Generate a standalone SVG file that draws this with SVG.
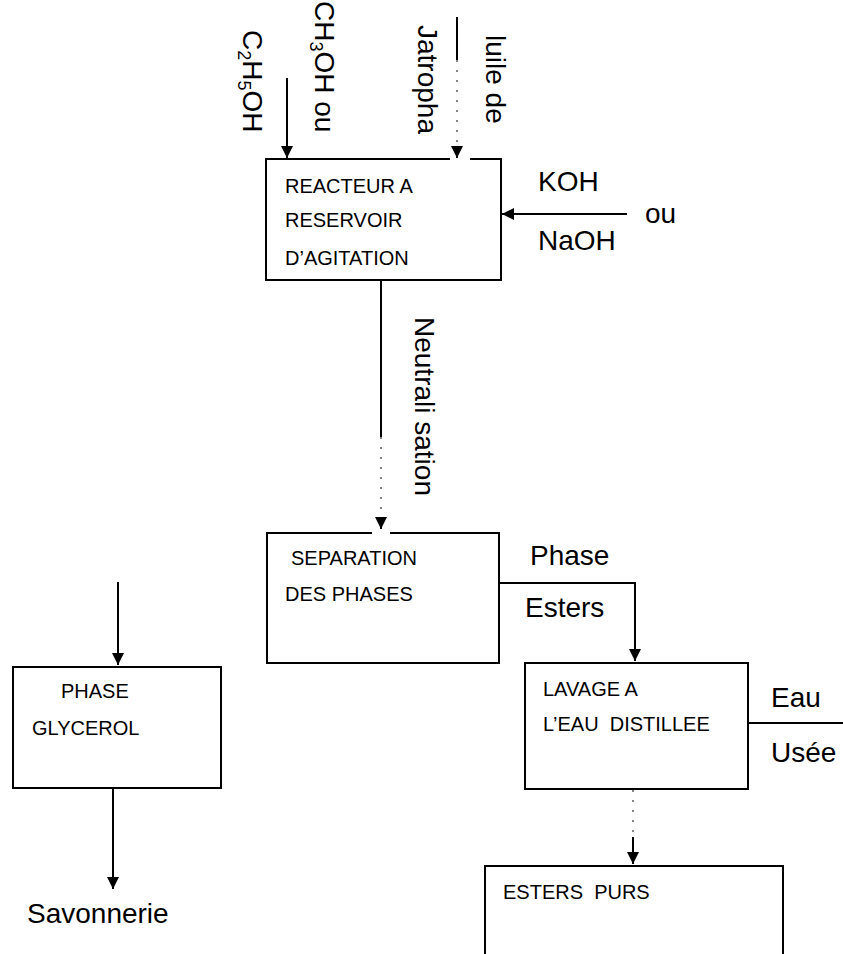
<svg xmlns="http://www.w3.org/2000/svg" width="843" height="954" viewBox="0 0 843 954">
  <style>
    .box { fill: none; stroke: #000; stroke-width: 2; }
    .t { font-family: "Liberation Sans", Arial, sans-serif; font-size: 20px; fill: #000; }
    .b { font-family: "Liberation Sans", Arial, sans-serif; font-size: 28px; fill: #000; }
    .conn { fill: none; stroke: #000; stroke-width: 2; }
    .dot { fill: none; stroke: #444; stroke-width: 1.3; stroke-dasharray: 2 8; }
  </style>
  <defs>
    <marker id="ah" viewBox="0 0 12 12" refX="12" refY="6" markerWidth="12" markerHeight="12" markerUnits="userSpaceOnUse" orient="auto">
      <path d="M0,0 L12,6 L0,12 z" fill="#000"/>
    </marker>
  </defs>
  <rect width="843" height="954" fill="#fff"/>

  <!-- Inputs -->
  <g id="in-c2h5oh">
    <text class="b" transform="translate(243,30) rotate(90)">C<tspan font-size="18" dy="5">2</tspan><tspan dy="-5">H</tspan><tspan font-size="18" dy="5">5</tspan><tspan dy="-5">OH</tspan></text>
  </g>
  <g id="in-ch3oh">
    <text class="b" transform="translate(315,1) rotate(90)">CH<tspan font-size="18" dy="5">3</tspan><tspan dy="-5">OH ou</tspan></text>
  </g>
  <g id="in-huile">
    <text class="b" transform="translate(418,25) rotate(90)">Jatropha</text>
    <text class="b" transform="translate(486,35) rotate(90)">luile de</text>
  </g>
  <g id="in-koh">
    <text class="b" x="538" y="191">KOH</text>
    <text class="b" x="645" y="223">ou</text>
    <text class="b" x="538" y="250">NaOH</text>
  </g>

  <!-- Nodes -->
  <g id="reacteur">
    <path class="box" d="M450,159 H266 V280 H501 V159 H470"/>
    <text class="t" x="285" y="193">REACTEUR A</text>
    <text class="t" x="285" y="227">RESERVOIR</text>
    <text class="t" x="285" y="265">D’AGITATION</text>
  </g>
  <g id="neutralisation">
    <text class="b" transform="translate(415,317) rotate(90)">Neutrali sation</text>
  </g>
  <g id="separation">
    <path class="box" d="M372,533 H267 V663 H499 V533 H390"/>
    <text class="t" x="291" y="565">SEPARATION</text>
    <text class="t" x="285" y="601">DES PHASES</text>
  </g>
  <g id="phase-esters">
    <text class="b" x="530" y="565">Phase</text>
    <text class="b" x="525" y="617">Esters</text>
  </g>
  <g id="lavage">
    <rect class="box" x="525" y="663" width="223" height="126"/>
    <text class="t" x="543" y="696">LAVAGE A</text>
    <text class="t" x="543" y="731" xml:space="preserve">L’EAU  DISTILLEE</text>
  </g>
  <g id="eau-usee">
    <text class="b" x="771" y="707">Eau</text>
    <text class="b" x="771" y="762">Usée</text>
  </g>
  <g id="esters-purs">
    <path class="box" d="M485,956 V866 H783 V956"/>
    <text class="t" x="503" y="899" xml:space="preserve">ESTERS  PURS</text>
  </g>
  <g id="phase-glycerol">
    <rect class="box" x="13" y="667" width="208" height="121"/>
    <text class="t" x="61" y="698">PHASE</text>
    <text class="t" x="32" y="735">GLYCEROL</text>
  </g>
  <g id="savonnerie">
    <text class="b" x="27" y="923">Savonnerie</text>
  </g>

  <!-- Connectors -->
  <g id="connectors">
    <path class="conn" d="M287,78 V158" marker-end="url(#ah)"/>
    <path class="conn" d="M457,17 V60"/>
    <path class="dot" d="M457,60 V150"/>
    <path class="conn" d="M457,148 V158" marker-end="url(#ah)"/>
    <path class="conn" d="M627,214 H502" marker-end="url(#ah)"/>
    <path class="conn" d="M381,280 V437"/>
    <path class="dot" d="M381,437 V520"/>
    <path class="conn" d="M381,518 V529" marker-end="url(#ah)"/>
    <path class="conn" d="M499,583 H635 V661" marker-end="url(#ah)"/>
    <path class="conn" d="M748,723 H843"/>
    <path class="dot" d="M633,790 V837"/>
    <path class="conn" d="M633,837 V864" marker-end="url(#ah)"/>
    <path class="conn" d="M118,582 V665" marker-end="url(#ah)"/>
    <path class="conn" d="M113,788 V889" marker-end="url(#ah)"/>
  </g>
</svg>
